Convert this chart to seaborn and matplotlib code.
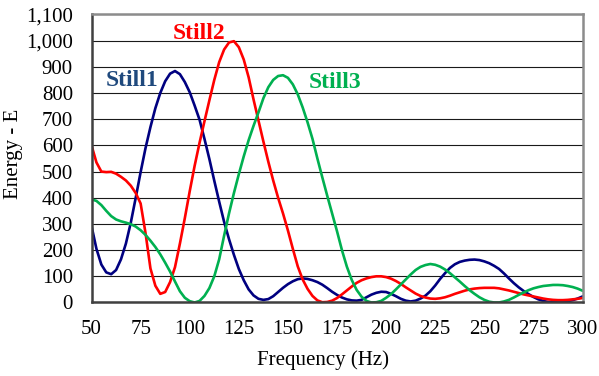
import numpy as np
import pandas as pd
import matplotlib
matplotlib.use("Agg")
import matplotlib.pyplot as plt
from matplotlib.ticker import FuncFormatter
import seaborn as sns

# Frequency grid (Hz) shared by all three measurements
freq_hz = np.arange(50, 300.1, 2.5)

# Energy readings per still, one value per frequency step
still1 = [292, 205, 145, 115, 108, 124, 165, 225, 305, 400,
          498, 590, 670, 742, 800, 845, 874, 884, 872, 842,
          803, 752, 698, 625, 548, 465, 385, 308, 242, 182,
          128, 85, 50, 27, 14, 10, 13, 24, 40, 56,
          70, 81, 89, 92, 90, 85, 78, 68, 55, 41,
          29, 19, 12, 8, 7, 10, 20, 30, 37, 41,
          40, 33, 24, 14, 7, 4, 7, 15, 26, 43,
          65, 90, 112, 132, 146, 155, 160, 163, 164, 162,
          157, 150, 140, 128, 111, 92, 74, 58, 44, 32,
          21, 12, 6, 2, 1, 2, 3, 5, 9, 15,
          23]
still2 = [600, 535, 500, 498, 499, 492, 480, 466, 446, 418,
          378, 265, 130, 64, 33, 40, 78, 135, 225, 322,
          425, 522, 610, 692, 772, 850, 918, 966, 993, 998,
          975, 928, 860, 775, 695, 615, 538, 466, 400, 340,
          275, 205, 138, 88, 52, 25, 8, 1, 2, 7,
          17, 31, 46, 61, 75, 85, 92, 97, 100, 100,
          97, 91, 82, 71, 58, 46, 34, 25, 19, 15,
          14, 16, 20, 26, 33, 39, 45, 50, 53, 55,
          56, 56, 56, 54, 50, 46, 41, 36, 31, 27,
          23, 19, 15, 12, 10, 9, 9, 10, 12, 14,
          17]
still3 = [394, 388, 372, 350, 330, 317, 310, 305, 299, 290,
          276, 258, 236, 212, 184, 152, 118, 80, 43, 18,
          5, 0, 6, 25, 55, 100, 165, 255, 340, 418,
          490, 558, 620, 675, 726, 780, 822, 850, 865, 868,
          858, 833, 795, 745, 688, 625, 550, 478, 408, 340,
          272, 200, 137, 86, 48, 22, 6, 0, 1, 6,
          18, 32, 50, 69, 88, 107, 124, 136, 143, 147,
          144, 137, 126, 112, 96, 80, 63, 47, 33, 20,
          10, 3, 0, 0, 4, 10, 19, 29, 38, 47,
          54, 59, 63, 65, 67, 67, 66, 63, 59, 53,
          45]

series_names = ["Still1", "Still2", "Still3"]
x_ticks = [50, 75, 100, 125, 150, 175, 200, 225, 250, 275, 300]
y_ticks = [0, 100, 200, 300, 400, 500, 600, 700, 800, 900, 1000, 1100]

line_colors = {"Still1": "#000080", "Still2": "#FF0000", "Still3": "#00B050"}
text_colors = {"Still1": "#1F497D", "Still2": "#FF0000", "Still3": "#00B050"}
# where each series name is written inside the plot (data coordinates)
name_anchor = {"Still1": (70.6, 846), "Still2": (104.7, 1027), "Still3": (174.2, 842)}

df = pd.concat(
    [pd.DataFrame({"Frequency": freq_hz, "Energy": vals, "Series": name})
     for name, vals in zip(series_names, [still1, still2, still3])],
    ignore_index=True,
)

sns.set_theme(style="white")
plt.rcParams["font.family"] = ["Liberation Serif", "DejaVu Serif"]

fig = plt.figure(figsize=(5.99, 3.76), dpi=100)
ax = fig.add_axes([0.1528, 0.1955, 0.8197, 0.766])

sns.lineplot(data=df, x="Frequency", y="Energy", hue="Series",
             hue_order=series_names, palette=line_colors,
             linewidth=1.9, legend=False, errorbar=None, ax=ax)

ax.set_xlim(50, 300)
ax.set_ylim(0, 1100)
ax.set_xticks(x_ticks)
ax.set_yticks(y_ticks)
ax.yaxis.set_major_formatter(FuncFormatter(lambda v, p: f"{v:,.0f}"))

ax.grid(axis="y", color="#1a1a1a", linewidth=0.8)
ax.grid(axis="x", visible=False)
ax.set_axisbelow(True)

for side in ("left", "bottom"):
    ax.spines[side].set_color("#404040")
    ax.spines[side].set_linewidth(1.8)
for side in ("top", "right"):
    ax.spines[side].set_color("#8c8c8c")
    ax.spines[side].set_linewidth(1.8)

ax.tick_params(axis="both", which="major", direction="out", length=4.5,
               width=1.5, color="#404040", labelsize=15, labelcolor="black")
ax.tick_params(axis="y", pad=8.9)
ax.tick_params(axis="x", pad=8)

ax.set_xlabel("Frequency (Hz)", fontsize=15, color="black")
ax.set_ylabel("Energy - E", fontsize=15, color="black", va="center")
ax.xaxis.set_label_coords(0.471, -0.165)
ax.yaxis.set_label_coords(-0.158, 0.516)

for name in series_names:
    x, y = name_anchor[name]
    ax.text(x, y, name, color=text_colors[name], fontsize=17,
            fontweight="bold", ha="center", va="center")

fig.savefig("out.png", dpi=100, facecolor="white")
